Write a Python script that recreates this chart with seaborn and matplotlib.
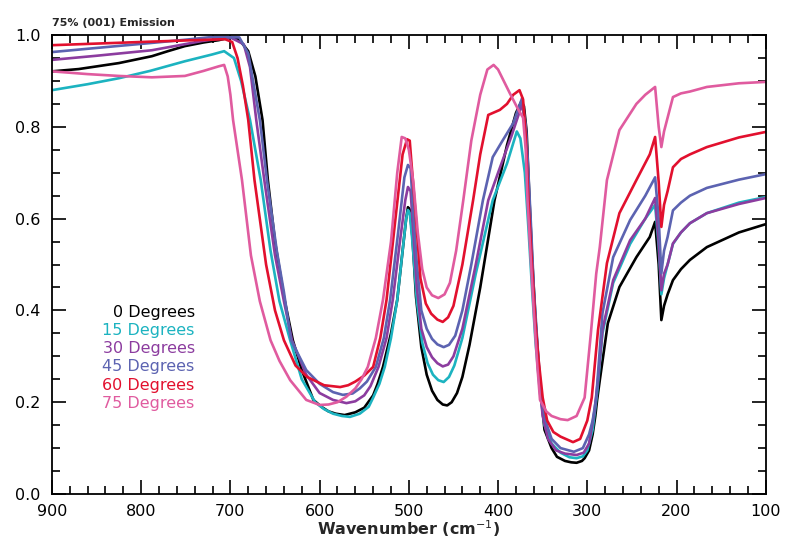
import numpy as np
import pandas as pd
import matplotlib
matplotlib.use("Agg")
import matplotlib.pyplot as plt
import seaborn as sns
from matplotlib.ticker import MultipleLocator, FormatStrFormatter

# ---------------- data ----------------
angles = [0, 15, 30, 45, 60, 75]
colors = ["#000000", "#1cb3c0", "#8c3c9f", "#5c63b1", "#e2102e", "#e05b9f"]

x_0 = [900, 870, 825, 788, 770, 751, 730, 713, 700, 690, 680, 672, 664, 658, 650, 640, 630, 620, 607, 598,
       590, 582, 572, 560, 550, 540, 535, 529, 520, 513, 507, 503, 501, 499, 496, 492, 486, 480, 474, 468,
       462, 457, 452, 446, 440, 432, 420, 404, 390, 380, 374, 371, 368, 365, 362, 358, 353, 348, 340, 334,
       325, 318, 312, 306, 303, 298, 294, 291, 289, 286, 277, 264, 245, 230, 224, 220, 217, 214, 210, 204,
       195, 185, 166, 130, 100]
y_0 = [0.921, 0.926, 0.939, 0.954, 0.965, 0.976, 0.984, 0.989, 0.995, 0.99, 0.965, 0.91, 0.815, 0.684, 0.55,
       0.43, 0.335, 0.27, 0.205, 0.19, 0.18, 0.175, 0.172, 0.178, 0.188, 0.215, 0.24, 0.277, 0.35, 0.423,
       0.53, 0.6, 0.625, 0.62, 0.56, 0.43, 0.32, 0.26, 0.225, 0.205, 0.195, 0.193, 0.2, 0.22, 0.255, 0.325,
       0.45, 0.64, 0.76, 0.83, 0.855, 0.845, 0.79, 0.65, 0.52, 0.38, 0.24, 0.14, 0.1, 0.081, 0.072, 0.069,
       0.068, 0.072, 0.078, 0.095, 0.13, 0.17, 0.205, 0.248, 0.372, 0.451, 0.516, 0.56, 0.593, 0.5, 0.379,
       0.41, 0.435, 0.466, 0.49, 0.51, 0.538, 0.57, 0.588]

x_15 = [900, 860, 825, 790, 751, 720, 707, 696, 688, 678, 666, 655, 645, 633, 620, 605, 595, 585, 575, 566,
        555, 545, 540, 533, 527, 520, 513, 507, 503, 501, 499, 496, 491, 485, 479, 473, 467, 461, 455, 449,
        440, 425, 406, 390, 379, 375, 370, 366, 362, 358, 353, 348, 340, 330, 320, 312, 305, 300, 294, 289,
        283, 271, 252, 235, 224, 220, 217, 214, 210, 204, 195, 185, 166, 130, 100]
y_15 = [0.88, 0.893, 0.906, 0.922, 0.943, 0.958, 0.965, 0.95, 0.9, 0.815, 0.684, 0.53, 0.42, 0.335, 0.25,
        0.2, 0.185, 0.175, 0.17, 0.168, 0.175, 0.19, 0.21, 0.24, 0.277, 0.34, 0.423, 0.53, 0.6, 0.619, 0.612,
        0.55, 0.42, 0.33, 0.285, 0.26, 0.248, 0.244, 0.255, 0.28, 0.34, 0.48, 0.64, 0.72, 0.79, 0.775, 0.7,
        0.58, 0.45, 0.33, 0.22, 0.15, 0.11, 0.09, 0.08, 0.078, 0.082, 0.095, 0.14, 0.22, 0.35, 0.46, 0.545,
        0.6, 0.63, 0.54, 0.435, 0.47, 0.5, 0.545, 0.57, 0.59, 0.612, 0.635, 0.647]

x_30 = [900, 850, 788, 760, 732, 710, 700, 685, 678, 671, 662, 650, 640, 631, 615, 600, 585, 570, 560, 550,
        543, 534, 525, 518, 510, 504, 501, 498, 496, 491, 486, 480, 474, 468, 462, 456, 450, 440, 425, 411,
        400, 385, 373, 369, 366, 363, 359, 355, 350, 344, 335, 325, 312, 304, 298, 292, 288, 283, 271, 252,
        235, 224, 220, 217, 214, 210, 204, 195, 185, 166, 130, 100]
y_30 = [0.946, 0.955, 0.967, 0.977, 0.987, 0.993, 0.995, 0.98, 0.93, 0.815, 0.684, 0.52, 0.42, 0.335, 0.26,
        0.22, 0.205, 0.198, 0.202, 0.215, 0.235, 0.277, 0.34, 0.423, 0.55, 0.64, 0.669, 0.66, 0.6, 0.45,
        0.36, 0.32, 0.298, 0.285, 0.278, 0.282, 0.3, 0.36, 0.5, 0.64, 0.7, 0.78, 0.85, 0.8, 0.68, 0.54, 0.4,
        0.27, 0.17, 0.12, 0.095, 0.088, 0.085, 0.09, 0.11, 0.18, 0.25, 0.357, 0.466, 0.553, 0.6, 0.645, 0.55,
        0.444, 0.48, 0.5, 0.546, 0.57, 0.59, 0.612, 0.632, 0.645]

x_45 = [900, 850, 788, 750, 720, 690, 680, 667, 659, 648, 640, 632, 615, 600, 585, 574, 563, 555, 547, 537,
        528, 521, 512, 505, 501, 498, 496, 491, 486, 480, 474, 468, 461, 455, 448, 440, 430, 417, 406, 395,
        383, 373, 369, 366, 363, 360, 356, 352, 347, 340, 330, 315, 305, 298, 294, 290, 283, 271, 252, 235,
        224, 220, 217, 214, 210, 204, 195, 185, 166, 130, 100]
y_45 = [0.963, 0.972, 0.983, 0.99, 0.996, 0.995, 0.96, 0.815, 0.684, 0.53, 0.44, 0.335, 0.27, 0.24, 0.222,
        0.216, 0.219, 0.23, 0.245, 0.277, 0.34, 0.423, 0.57, 0.69, 0.717, 0.71, 0.64, 0.5, 0.4, 0.36, 0.338,
        0.326, 0.32, 0.325, 0.345, 0.4, 0.5, 0.64, 0.734, 0.77, 0.808, 0.863, 0.8, 0.7, 0.58, 0.45, 0.33,
        0.22, 0.16, 0.12, 0.1, 0.092, 0.1, 0.13, 0.16, 0.21, 0.394, 0.516, 0.597, 0.65, 0.69, 0.6, 0.481,
        0.53, 0.56, 0.618, 0.635, 0.65, 0.667, 0.685, 0.697]

x_60 = [900, 800, 740, 706, 698, 692, 686, 680, 673, 660, 650, 640, 627, 614, 595, 577, 568, 560, 550, 540,
        532, 525, 515, 507, 502, 499, 497, 492, 487, 481, 475, 468, 462, 456, 450, 440, 428, 420, 411, 398,
        390, 383, 376, 372, 369, 366, 362, 358, 355, 350, 345, 338, 330, 316, 308, 300, 295, 288, 278, 264,
        245, 230, 224, 220, 217, 214, 210, 204, 195, 185, 166, 130, 100]
y_60 = [0.978, 0.985, 0.989, 0.991, 0.985, 0.95, 0.89, 0.815, 0.684, 0.5, 0.4, 0.335, 0.28, 0.255, 0.237,
        0.233, 0.237, 0.245, 0.258, 0.277, 0.34, 0.423, 0.6, 0.74, 0.773, 0.77, 0.72, 0.6, 0.47, 0.415,
        0.393, 0.38, 0.375, 0.385, 0.41, 0.5, 0.64, 0.74, 0.826, 0.837, 0.85, 0.87, 0.88, 0.86, 0.78, 0.64,
        0.5, 0.37, 0.3, 0.21, 0.16, 0.135, 0.125, 0.113, 0.12, 0.16, 0.21, 0.357, 0.503, 0.612, 0.684, 0.74,
        0.778, 0.68, 0.582, 0.63, 0.66, 0.712, 0.73, 0.74, 0.756, 0.777, 0.789]

x_75 = [900, 860, 825, 788, 751, 730, 713, 707, 703, 700, 697, 687, 677, 667, 655, 645, 633, 615, 600, 590,
        580, 570, 560, 553, 546, 537, 529, 520, 513, 508, 504, 500, 495, 490, 485, 480, 474, 467, 460, 454,
        447, 439, 430, 420, 412, 405, 400, 387, 378, 372, 369, 367, 363, 360, 356, 353, 346, 340, 330, 322,
        312, 303, 296, 290, 286, 278, 264, 245, 235, 224, 220, 217, 214, 210, 204, 195, 185, 166, 130, 100]
y_75 = [0.921, 0.915, 0.911, 0.908, 0.911, 0.922, 0.932, 0.935, 0.91, 0.87, 0.815, 0.684, 0.52, 0.42, 0.335,
        0.29, 0.248, 0.205, 0.194, 0.195, 0.2, 0.212, 0.23, 0.25, 0.277, 0.34, 0.423, 0.55, 0.7, 0.778,
        0.775, 0.75, 0.68, 0.57, 0.49, 0.45, 0.433, 0.427, 0.435, 0.46, 0.53, 0.64, 0.77, 0.87, 0.925,
        0.935, 0.925, 0.874, 0.84, 0.82, 0.75, 0.64, 0.5, 0.4, 0.28, 0.205, 0.18, 0.17, 0.163, 0.161, 0.17,
        0.21, 0.35, 0.48, 0.538, 0.684, 0.793, 0.85, 0.87, 0.887, 0.8, 0.756, 0.79, 0.82, 0.865, 0.873,
        0.877, 0.887, 0.895, 0.898]

xs = [x_0, x_15, x_30, x_45, x_60, x_75]
ys = [y_0, y_15, y_30, y_45, y_60, y_75]

title_text = "75% (001) Emission"
xlabel_text = "Wavenumber (cm$^{-1}$)"

# ---------------- build frame ----------------
frames = []
for a, xx, yy in zip(angles, xs, ys):
    frames.append(pd.DataFrame({"wn": xx, "val": yy, "angle": f"{a} Degrees"}))
df = pd.concat(frames, ignore_index=True)
labels = [f"{a} Degrees" for a in angles]
palette = dict(zip(labels, colors))

# ---------------- plot ----------------
sns.set_theme(style="ticks")
plt.rcParams["font.family"] = ["DejaVu Sans"]

fig = plt.figure(figsize=(7.87, 5.45), dpi=100)
ax = fig.add_axes([0.066, 0.0936, 0.907, 0.842])

sns.lineplot(data=df, x="wn", y="val", hue="angle", hue_order=labels, palette=palette,
             estimator=None, sort=True, linewidth=1.9, legend=False, ax=ax)

ax.set_xlim(900, 100)
ax.set_ylim(0, 1.0)
ax.xaxis.set_major_locator(MultipleLocator(100))
ax.xaxis.set_minor_locator(MultipleLocator(20))
ax.yaxis.set_major_locator(MultipleLocator(0.2))
ax.yaxis.set_minor_locator(MultipleLocator(0.05))
ax.yaxis.set_major_formatter(FormatStrFormatter("%.1f"))
ax.tick_params(which="both", direction="in", top=True, right=True, width=1.2, colors="black",
               labelsize=11.5)
ax.tick_params(which="major", length=10)
ax.tick_params(which="minor", length=6)
ax.tick_params(axis="y", which="major", pad=8)
ax.tick_params(axis="x", which="major", pad=7)
for s in ax.spines.values():
    s.set_linewidth(1.3)
    s.set_color("black")

ax.set_xlabel(xlabel_text, fontsize=11.5, fontweight="bold", labelpad=0)
ax.set_ylabel("")
ax.text(0.0, 1.015, title_text, transform=ax.transAxes, ha="left", va="bottom",
        fontsize=8, fontweight="bold")

# legend as coloured text
ys_leg = [0.396, 0.357, 0.317, 0.277, 0.237, 0.198]
for lab, c, yl in zip(labels, colors, ys_leg):
    ax.text(0.2, yl, lab, transform=ax.transAxes, ha="right", va="center",
            fontsize=11.5, color=c)

fig.savefig("out.png", dpi=100, facecolor="white")
